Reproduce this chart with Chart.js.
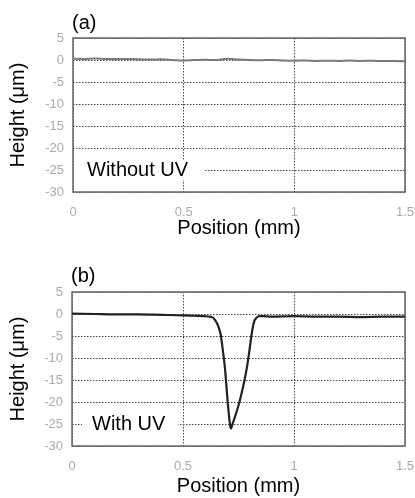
<!DOCTYPE html>
<html lang="en">
<head>
<meta charset="UTF-8">
<title>Height profiles</title>
<script src="https://cdn.jsdelivr.net/npm/chart.js"></script>
<style>
  body { margin: 0; background: #fff; }
  .panel { position: relative; width: 415px; height: 249px; }
</style>
</head>
<body>
<div class="panel"><canvas id="chartA" width="415" height="249"></canvas></div>
<div class="panel"><canvas id="chartB" width="415" height="249"></canvas></div>
<script>
// (a) without UV
const posA = [0, 0.05, 0.1, 0.15, 0.2, 0.25, 0.3, 0.35, 0.4, 0.45, 0.5, 0.55, 0.6, 0.65, 0.7, 0.75,
  0.8, 0.85, 0.9, 0.95, 1.0, 1.05, 1.1, 1.15, 1.2, 1.25, 1.3, 1.35, 1.4, 1.45, 1.5];
const heightA = [0.3, 0.25, 0.35, 0.2, 0.25, 0.2, 0.15, 0.1, 0.15, 0.0, -0.1, 0.0, 0.05, 0.0, 0.3, 0.1,
  0.0, -0.05, 0.0, -0.1, -0.15, -0.1, -0.2, -0.15, -0.2, -0.1, -0.2, -0.15, -0.25, -0.2, -0.3];

// (b) with UV
const posB = [0, 0.1, 0.2, 0.3, 0.4, 0.5, 0.55, 0.6, 0.62, 0.637, 0.65, 0.659, 0.67, 0.68, 0.689,
  0.695, 0.701, 0.708, 0.714, 0.717, 0.722, 0.735, 0.75, 0.765, 0.78, 0.79, 0.8, 0.808, 0.815,
  0.822, 0.832, 0.845, 0.86, 0.9, 1.0, 1.1, 1.2, 1.3, 1.4, 1.5];
const heightB = [0.1, 0.0, -0.1, -0.1, -0.2, -0.3, -0.4, -0.5, -0.6, -0.9, -1.8, -2.8, -4.7, -8.5, -12.3,
  -16, -19.8, -23.5, -25.8, -26, -25.2, -23.2, -20.8, -17.8, -14.3, -11.5, -8, -5, -2.9,
  -1.5, -0.8, -0.5, -0.5, -0.6, -0.5, -0.6, -0.6, -0.7, -0.6, -0.6];

const xTicks = [0, 0.5, 1, 1.5];
const yTicks = [5, 0, -5, -10, -15, -20, -25, -30];

const fontMain = 'Liberation Sans, Arial, sans-serif';

const framePlugin = {
  id: 'frame',
  beforeDatasetsDraw(chart) {
    const a = chart.chartArea;
    const ctx = chart.ctx;
    ctx.save();
    ctx.strokeStyle = '#666';
    ctx.lineWidth = 1.5;
    ctx.strokeRect(a.left, a.top, a.right - a.left, a.bottom - a.top);
    ctx.restore();
  },
  afterDraw(chart, args, opts) {
    const a = chart.chartArea;
    const ctx = chart.ctx;
    const y = chart.scales.y.getPixelForValue(-25);
    ctx.save();
    ctx.fillStyle = '#fff';
    ctx.fillRect(opts.boxLeft, y - 10, opts.boxRight - opts.boxLeft, 20);
    ctx.fillStyle = '#000';
    ctx.font = '20px ' + fontMain;
    ctx.textBaseline = 'middle';
    ctx.fillText(opts.note, opts.noteX, y);
    ctx.fillText(opts.tag, a.left - 1, opts.tagY);
    ctx.restore();
  }
};

function makeChart(id, xs, ys, color, width, p) {
  return new Chart(document.getElementById(id), {
    type: 'line',
    data: {
      datasets: [{
        data: xs.map((x, i) => ({ x: x, y: ys[i] })),
        borderColor: color,
        borderWidth: width,
        pointRadius: 0,
        cubicInterpolationMode: 'monotone'
      }]
    },
    options: {
      responsive: false,
      animation: false,
      layout: { padding: { top: p.top, right: 10, left: 0, bottom: 0 } },
      plugins: {
        legend: { display: false },
        tooltip: { enabled: false },
        frame: p.frame
      },
      scales: {
        x: {
          type: 'linear',
          min: 0, max: 1.5,
          afterBuildTicks: s => { s.ticks = xTicks.map(v => ({ value: v })); },
          afterFit: s => { s.height = p.xHeight; s.paddingLeft = 0; s.paddingRight = 0; },
          ticks: {
            color: '#aaa', padding: 13,
            font: { family: fontMain, size: 13 },
            maxRotation: 0,
            callback: v => String(v)
          },
          grid: { color: '#444', drawTicks: false, lineWidth: 1 },
          border: { display: false, dash: [1.5, 1.5] },
          title: {
            display: true, text: 'Position (mm)', color: '#000',
            font: { family: fontMain, size: 20 },
            padding: { top: 0, bottom: p.xTitlePad }
          }
        },
        y: {
          min: -30, max: 5,
          afterBuildTicks: s => { s.ticks = yTicks.map(v => ({ value: v })); },
          afterFit: s => { s.width = p.left; s.paddingTop = 0; s.paddingBottom = 0; },
          ticks: {
            color: '#aaa', padding: 9,
            font: { family: fontMain, size: 13 }
          },
          grid: { color: '#444', drawTicks: false, lineWidth: 1 },
          border: { display: false, dash: [1.5, 1.5] },
          title: {
            display: true, text: 'Height (μm)', color: '#000',
            font: { family: fontMain, size: 20 },
            padding: { top: 6, bottom: 0 }
          }
        }
      }
    },
    plugins: [framePlugin]
  });
}

makeChart('chartA', posA, heightA, '#7a7a7a', 2, {
  top: 38, left: 73, xHeight: 57, xTitlePad: 9,
  frame: { note: 'Without UV', noteX: 87, boxLeft: 74, boxRight: 205, tag: '(a)', tagY: 23 }
});
makeChart('chartB', posB, heightB, '#222', 2.2, {
  top: 43, left: 72, xHeight: 52, xTitlePad: 0,
  frame: { note: 'With UV', noteX: 92, boxLeft: 82, boxRight: 178, tag: '(b)', tagY: 27 }
});
</script>
</body>
</html>
